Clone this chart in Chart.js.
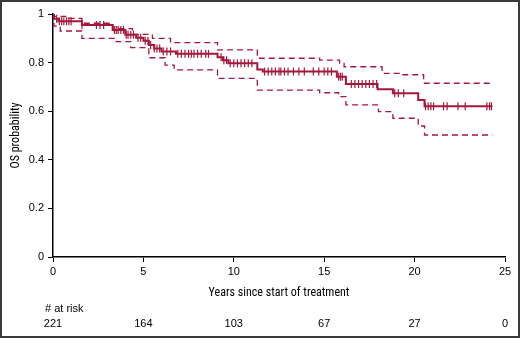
<!DOCTYPE html>
<html>
	<head>
		<title>OS probability</title>
		<script src="https://cdn.jsdelivr.net/npm/chart.js@4.4.0/dist/chart.umd.min.js"></script>
		<style>
			body { margin: 0; background: #fff; }
			#wrap { width: 520px; height: 338px; }
		</style>
	</head>
	<body>
		<div id="wrap"><canvas id="myChart" width="520" height="338"></canvas></div>
		<script>
			// krzywa Kaplana-Meiera (lata, przezycie)
			const kmTime = [0, 0.05, 0.3, 1.6, 3.3, 4.0, 4.6, 5.0, 5.3, 5.6, 6.0, 6.8, 9.1, 9.4, 9.7, 11.3, 11.6, 15.7, 16.2, 17.95, 18.8, 20.2, 20.55, 24.3];
			const kmSurv = [1, 0.98, 0.97, 0.955, 0.934, 0.915, 0.902, 0.89, 0.872, 0.858, 0.846, 0.836, 0.822, 0.81, 0.797, 0.772, 0.763, 0.742, 0.712, 0.69, 0.674, 0.646, 0.62, 0.62];

			// przedzial ufnosci - gorny
			const ciHiTime = [0, 0.05, 0.7, 1.6, 3.3, 4.4, 5.5, 6.5, 9.1, 11.3, 14.75, 15.85, 16.1, 18.2, 19.2, 20.5, 24.3];
			const ciHi = [1, 0.99, 0.982, 0.962, 0.94, 0.916, 0.9, 0.882, 0.852, 0.818, 0.81, 0.797, 0.783, 0.756, 0.75, 0.715, 0.715];

			// przedzial ufnosci - dolny
			const ciLoTime = [0, 0.05, 0.4, 1.6, 3.5, 4.3, 5.3, 6.2, 6.7, 9.1, 11.3, 14.75, 15.8, 16.2, 18.0, 18.8, 20.2, 20.55, 24.3];
			const ciLo = [1, 0.95, 0.93, 0.9, 0.886, 0.862, 0.82, 0.79, 0.77, 0.735, 0.687, 0.676, 0.66, 0.626, 0.598, 0.571, 0.539, 0.502, 0.502];

			// obserwacje cenzurowane (lata)
			const censorTime = [0.2, 0.35, 0.48, 0.6, 0.75, 0.88, 1.0, 1.6, 2.4, 2.6, 2.8, 3.4, 3.5, 3.6, 3.75, 3.9, 4.05, 4.15, 4.3, 4.45, 4.7, 4.85, 5.1, 5.25, 5.4, 5.6, 5.75, 5.9, 6.1, 6.3, 6.5, 6.9, 7.1, 7.3, 7.5, 7.65, 7.8, 8.0, 8.2, 8.45, 8.6, 9.3, 9.45, 9.6, 9.8, 10.0, 10.2, 10.4, 10.6, 10.8, 11.0, 11.7, 11.9, 12.1, 12.3, 12.5, 12.6, 12.8, 13.0, 13.3, 13.6, 13.9, 14.4, 14.7, 15.0, 15.2, 15.4, 15.8, 15.9, 16.0, 16.5, 16.7, 16.9, 17.1, 17.3, 17.5, 17.7, 17.9, 18.9, 19.1, 19.4, 20.6, 20.75, 20.9, 21.05, 21.6, 21.8, 22.4, 22.8, 24.0, 24.15, 24.25];

			// liczba pacjentow w ryzyku
			const riskTime = [0, 5, 10, 15, 20, 25];
			const riskCount = [221, 164, 103, 67, 27, 0];

			const yTicks = [0, 0.2, 0.4, 0.6, 0.8, 1];

			const red = '#a6173c';

			function pts (t, v) {
				return t.map((x, i) => ({x: x, y: v[i]}));
			}
			function survAt (t) {
				let s = kmSurv[0];
				for (let i = 0; i < kmTime.length; i++) {
					if (kmTime[i] <= t) s = kmSurv[i];
				}
				return s;
			}

			// tabela "# at risk" i ramka
			const extras = {
				id: 'extras',
				afterDraw (chart) {
					const ctx = chart.ctx;
					const xs = chart.scales.x;
					ctx.save();
					ctx.fillStyle = '#000';
					ctx.font = '11px "Liberation Sans", Arial, sans-serif';
					ctx.textBaseline = 'middle';
					ctx.textAlign = 'left';
					ctx.fillText('# at risk', 45, 309);
					ctx.textAlign = 'center';
					for (let i = 0; i < riskTime.length; i++) {
						ctx.fillText(String(riskCount[i]), xs.getPixelForValue(riskTime[i]), 324);
					}
					ctx.strokeStyle = '#3a3a3a';
					ctx.lineWidth = 2;
					ctx.strokeRect(1, 1, 518, 336);
					ctx.restore();
				}
			};

			const tickFont = {family: '"Liberation Sans", Arial, sans-serif', size: 11};
			const titleFont = {family: '"Liberation Sans Narrow", "Roboto Condensed", "DejaVu Sans Condensed", sans-serif', size: 12};

			new Chart(document.getElementById('myChart').getContext('2d'), {
				type: 'line',
				plugins: [extras],
				data: {
					datasets: [{
						data: pts(ciHiTime, ciHi),
						stepped: true,
						borderColor: red,
						borderWidth: 1.3,
						borderDash: [6, 4],
						pointRadius: 0,
						fill: false
					},
					{
						data: pts(ciLoTime, ciLo),
						stepped: true,
						borderColor: red,
						borderWidth: 1.3,
						borderDash: [6, 4],
						pointRadius: 0,
						fill: false
					},
					{
						data: pts(kmTime, kmSurv),
						stepped: true,
						borderColor: red,
						borderWidth: 2,
						pointRadius: 0,
						fill: false
					},
					{
						data: censorTime.map(t => ({x: t, y: survAt(t)})),
						showLine: false,
						pointStyle: 'line',
						rotation: 90,
						pointRadius: 4,
						borderColor: red,
						pointBorderWidth: 1.2,
						borderWidth: 1.2
					}]
				},
				options: {
					responsive: false,
					animation: false,
					layout: {padding: {left: 0, right: 15, top: 14, bottom: 38}},
					plugins: {
						legend: {display: false},
						tooltip: {enabled: false}
					},
					scales: {
						x: {
							type: 'linear',
							min: 0,
							max: 25,
							afterFit (s) { s.height = 43; },
							afterBuildTicks (s) { s.ticks = riskTime.map(v => ({value: v})); },
							border: {color: '#000', width: 1.5},
							grid: {drawOnChartArea: false, tickLength: 5, color: '#000', tickWidth: 1},
							ticks: {color: '#000', font: tickFont, padding: 3, maxRotation: 0},
							title: {display: true, text: 'Years since start of treatment', color: '#000', font: titleFont, padding: {top: 5, bottom: 0}}
						},
						y: {
							min: 0,
							max: 1,
							afterFit (s) { s.width = 53; },
							afterBuildTicks (s) { s.ticks = yTicks.map(v => ({value: v})); },
							border: {color: '#000', width: 1.5},
							grid: {drawOnChartArea: false, tickLength: 5, color: '#000', tickWidth: 1},
							ticks: {color: '#000', font: tickFont, padding: 4, callback: v => String(v)},
							title: {display: true, text: 'OS probability', color: '#000', font: titleFont, padding: {top: 9, bottom: 0}}
						}
					}
				}
			});
		</script>
	</body>
</html>
